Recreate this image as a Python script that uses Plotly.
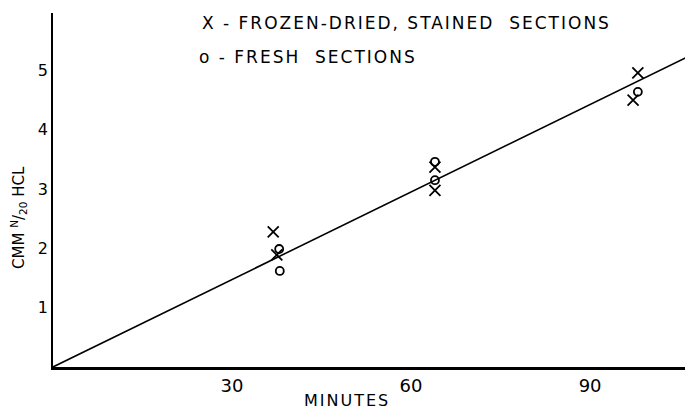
import plotly.graph_objects as go

# Data
frozen_min = [36.9, 37.5, 64.0, 64.0, 98.0, 97.2]
frozen_hcl = [2.28, 1.89, 3.37, 2.98, 4.96, 4.50]
fresh_min = [37.9, 38.0, 64.0, 64.0, 98.0]
fresh_hcl = [1.99, 1.62, 3.46, 3.15, 4.64]
fit_min = [0, 106]
fit_slope = 0.0492
fit_hcl = [fit_slope * m for m in fit_min]
x_ticks = [30, 60, 90]
y_ticks = [1, 2, 3, 4, 5]

FONT = "DejaVu Sans"
W, H = 685, 411
ML, MR, MT, MB = 53, 0, 13, 44

fig = go.Figure()
fig.add_trace(go.Scatter(x=fit_min, y=fit_hcl, mode="lines",
                         line=dict(color="black", width=1.6), showlegend=False,
                         hoverinfo="skip"))
fig.add_trace(go.Scatter(x=frozen_min, y=frozen_hcl, mode="markers",
                         marker=dict(symbol="x-thin-open", size=11, color="black",
                                     line=dict(color="black", width=1.8)),
                         showlegend=False))
fig.add_trace(go.Scatter(x=fresh_min, y=fresh_hcl, mode="markers",
                         marker=dict(symbol="circle-open", size=8, color="black",
                                     line=dict(color="black", width=1.8)),
                         showlegend=False))

pw, ph = W - ML - MR, H - MT - MB


def px(x):
    return (x - ML) / pw


def py(y):
    return (H - MB - y) / ph


fig.update_layout(
    width=W, height=H,
    margin=dict(l=ML, r=MR, t=MT, b=MB),
    paper_bgcolor="white", plot_bgcolor="white",
    font=dict(family=FONT, color="black"),
    xaxis=dict(range=[0, 105.9], tickvals=x_ticks, ticktext=[str(v) for v in x_ticks],
               showgrid=False, zeroline=False, showline=True, linecolor="black",
               linewidth=3, ticks="", tickfont=dict(size=18, family=FONT)),
    yaxis=dict(range=[0, 5.97], tickvals=y_ticks, ticktext=[str(v) for v in y_ticks],
               showgrid=False, zeroline=False, showline=True, linecolor="black",
               linewidth=1.5, ticks="", tickfont=dict(size=16, family=FONT)),
    annotations=[
        dict(text="X - FROZEN-DRIED, STAINED  SECTIONS", x=px(406), y=py(23),
             xref="paper", yref="paper", showarrow=False, xanchor="center", yanchor="middle",
             font=dict(size=17, family=FONT)),
        dict(text="o - FRESH  SECTIONS", x=px(308), y=py(57),
             xref="paper", yref="paper", showarrow=False, xanchor="center", yanchor="middle",
             font=dict(size=17, family=FONT)),
        dict(text="MINUTES", x=px(347), y=py(401), xref="paper", yref="paper",
             showarrow=False, xanchor="center", yanchor="middle",
             font=dict(size=16, family=FONT)),
        dict(text="CMM <sup>N</sup>/<sub>20</sub> HCL", x=px(19), y=py(218),
             xref="paper", yref="paper", showarrow=False,
             textangle=-90, xanchor="center", yanchor="middle",
             font=dict(size=15, family=FONT)),
    ],
)

post = """
document.body.style.margin='0';
function spacing(){
  [0,1,2].forEach(function(i){
    document.querySelectorAll('.annotation[data-index="'+i+'"] .annotation-text').forEach(function(e){e.style.letterSpacing='2px';});
  });
}
spacing(); setTimeout(spacing, 30); setTimeout(spacing, 300);
"""
fig.write_html("out.html", post_script=post, config={"displayModeBar": False})
